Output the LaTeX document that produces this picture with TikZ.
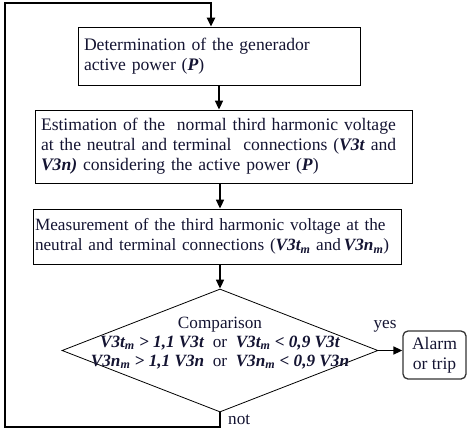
\documentclass[tikz,border=0pt]{standalone}
\usepackage{fontspec}
\setmainfont{Liberation Serif}
\usetikzlibrary{arrows.meta,shapes.geometric,positioning,calc}
\definecolor{ink}{RGB}{20,20,50}
\newcommand{\bi}[1]{\textbf{\textit{#1}}}
\newcommand{\bism}[2]{\textbf{\textit{#1\textsubscript{#2}}}}

\begin{document}
\begin{tikzpicture}[x=1pt, y=1pt,
    box/.style={draw, thick, align=left, text=ink, font=\fontsize{17.6}{20}\selectfont, inner sep=6pt},
    dec/.style={draw, diamond, thick, minimum width=316pt, minimum height=123pt, inner sep=0pt},
    alarmbox/.style={draw=black!80, line width=1.3pt, rounded corners=5pt, align=center, text=ink, font=\fontsize{17.6}{20}\selectfont, minimum width=63pt, minimum height=48pt, inner sep=2pt},
    arr/.style={-{Triangle[length=9pt, width=8pt]}, line width=1.6pt},
    looparr/.style={-{Triangle[length=9pt, width=8pt]}, line width=2.6pt},
    lbl/.style={text=ink, font=\fontsize{17.2}{19}\selectfont, inner sep=0pt}
]
\useasboundingbox (0,0) rectangle (468,-434);

\node[box, minimum width=282pt, minimum height=58pt, text width=270pt] (power) at (219,-56)
    {Determination of the generador\\active power (\bi{P})};
\node[box, minimum width=377pt, minimum height=73pt, text width=365pt] (estim) at (223.5,-146.5)
    {Estimation of the \ normal third harmonic voltage\\at the neutral and terminal \ connections (\bi{V3t} and\\\bi{V3n)} considering the active power (\bi{P})};
\node[box, minimum width=368pt, minimum height=55pt, text width=364pt, inner xsep=2pt, font=\fontsize{17.2}{19.5}\selectfont] (meas) at (217,-236.5)
    {Measurement of the third harmonic voltage at the\\neutral and terminal connections (\bism{V3t}{m} and\,\bism{V3n}{m})};
\node[dec] (cmp) at (220,-350.5) {};
\node[lbl, align=center] (cmptxt) at (220,-343)
    {Comparison\\\bism{V3t}{m} \bi{> 1,1 V3t} \ or \ \bism{V3t}{m} \bi{< 0,9 V3t}\\\bism{V3n}{m} \bi{> 1,1 V3n} \ or \ \bism{V3n}{m} \bi{< 0,9 V3n}};
\node[alarmbox] (alarm) at (434.5,-355) {Alarm\\or trip};
\node[lbl] (yes) at (385,-326) {yes};
\node[lbl, anchor=west] (no) at (228,-420) {not};

\coordinate (lpbl) at (5,-427);
\coordinate (lptr) at (211,-3);

\draw[arr] (power.south) -- (power.south |- estim.north);
\draw[arr] (220,-183) coordinate (e2) -- (e2 |- meas.north);
\draw[arr] (meas.south -| cmp.north) -- (cmp.north);
\draw[arr] (cmp.east) -- (cmp.east -| alarm.west);
\draw[looparr] (cmp.south) |- (lpbl) |- (lptr) -- (lptr |- power.north);
\end{tikzpicture}
\end{document}
